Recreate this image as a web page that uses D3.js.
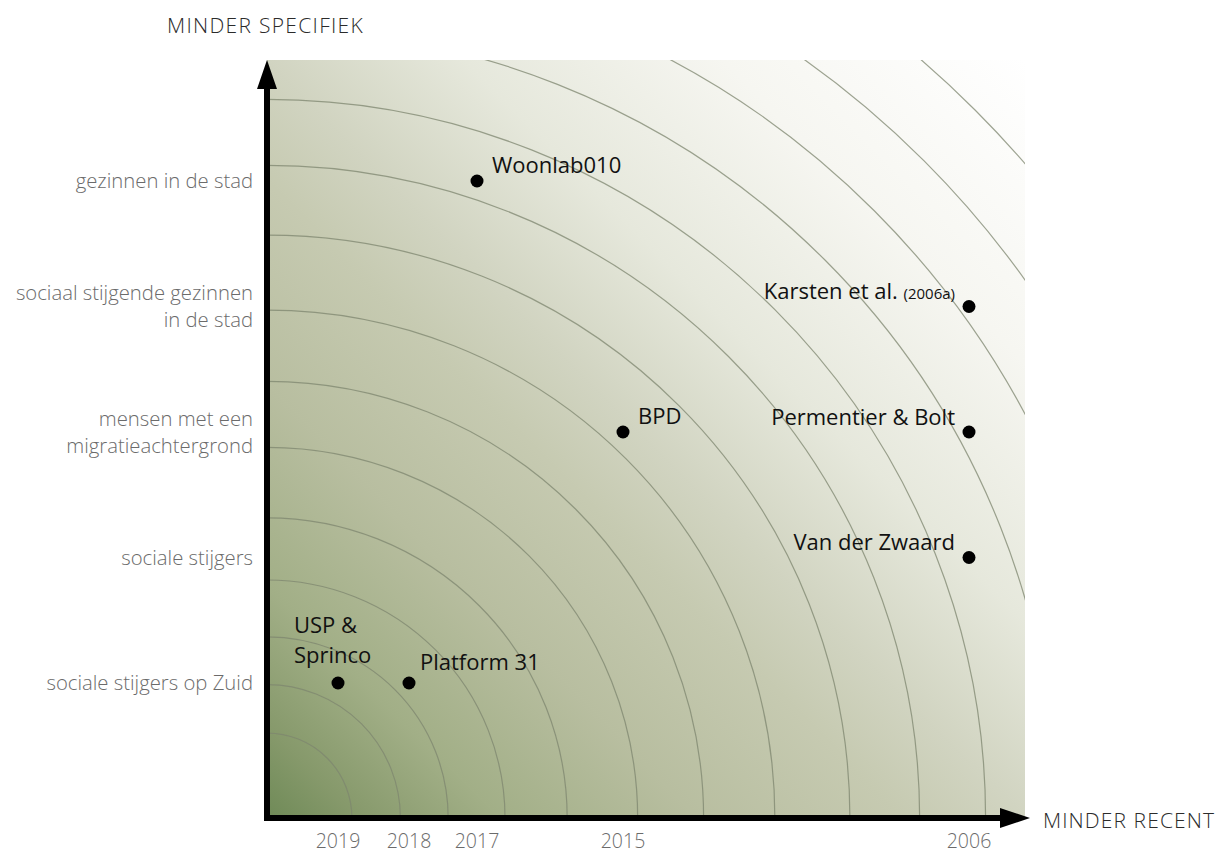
<!DOCTYPE html>
<html>
<head>
<meta charset="utf-8">
<script src="https://cdn.jsdelivr.net/npm/d3@7"></script>
<style>
  body { margin: 0; background: #fff; }
  text { font-family: "Open Sans", "Noto Sans", sans-serif; }
</style>
</head>
<body>
<div class="chart"></div>
<script>
// Data
var yCategories = ["sociale stijgers op Zuid", "sociale stijgers", "mensen met een\nmigratieachtergrond",
                   "sociaal stijgende gezinnen\nin de stad", "gezinnen in de stad"];
var xYears = [2019, 2018, 2017, 2015, 2006];
var studyNames = ["USP &\nSprinco", "Platform 31", "Woonlab010", "BPD", "Karsten et al.", "Permentier & Bolt", "Van der Zwaard"];
var studyNotes = ["", "", "", "", "(2006a)", "", ""];
var studyYears = [2019, 2018, 2017, 2015, 2006, 2006, 2006];
var studyGroups = ["sociale stijgers op Zuid", "sociale stijgers op Zuid", "gezinnen in de stad",
                   "mensen met een\nmigratieachtergrond", "sociaal stijgende gezinnen\nin de stad",
                   "mensen met een\nmigratieachtergrond", "sociale stijgers"];
// rings, as share of the plot side
var ringRadii = [0.112, 0.176, 0.239, 0.314, 0.396, 0.489, 0.576, 0.670, 0.769, 0.861, 0.948, 1.041, 1.133, 1.226, 1.321];

// Set up SVG Area
var svgWidth = 1220;
var svgHeight = 854;
var margin = {top: 60, left: 267};
var width = 758;
var height = 758;

var svg = d3.select(".chart")
    .append("svg")
    .attr("width", svgWidth)
    .attr("height", svgHeight);

var defs = svg.append("defs");

// diagonal gradient: green at the origin, white at the far corner
var grad = defs.append("linearGradient")
    .attr("id", "bg")
    .attr("gradientUnits", "userSpaceOnUse")
    .attr("x1", 0).attr("y1", height)
    .attr("x2", width).attr("y2", 0);
[[0, "#6f8a57"], [0.06, "#86996b"], [0.154, "#a2af87"], [0.285, "#b8bea0"], [0.42, "#c6cab1"],
 [0.5, "#d1d4c1"], [0.63, "#e6e8dc"], [0.8, "#f6f6f1"], [1, "#ffffff"]]
  .forEach(function(s) {
    grad.append("stop").attr("offset", s[0]).attr("stop-color", s[1]);
  });

defs.append("clipPath").attr("id", "plotClip")
  .append("rect").attr("x", 0).attr("y", 0).attr("width", width).attr("height", height);

var chartGroup = svg.append("g")
    .attr("transform", "translate(" + margin.left + "," + margin.top + ")");

// Scales
var xScale = d3.scaleLinear()
    .domain(xYears)
    .range([71, 142, 210, 356, 702]);

var yScale = d3.scalePoint()
    .domain(yCategories)
    .range([height - 135, 121]);

var rScale = d3.scaleLinear().domain([0, 1]).range([0, width]);

// Background
chartGroup.append("rect")
    .attr("width", width)
    .attr("height", height)
    .attr("fill", "url(#bg)");

// Rings
chartGroup.append("g")
    .attr("clip-path", "url(#plotClip)")
    .selectAll("path")
    .data(ringRadii)
    .enter()
    .append("path")
    .attr("transform", "translate(0," + height + ")")
    .attr("d", d3.arc().innerRadius(d => rScale(d)).outerRadius(d => rScale(d)).startAngle(0).endAngle(Math.PI / 2))
    .attr("fill", "none")
    .attr("stroke", "#7e856f")
    .attr("stroke-opacity", 0.75)
    .attr("stroke-width", 1.2);

// Axes with arrows
chartGroup.append("line")
    .attr("x1", 0).attr("y1", height).attr("x2", 0).attr("y2", 26)
    .attr("stroke", "#000").attr("stroke-width", 6);
chartGroup.append("path")
    .attr("d", "M0,0 L10,29 L-10,29 Z")
    .attr("fill", "#000");
chartGroup.append("line")
    .attr("x1", -3).attr("y1", height).attr("x2", width - 24).attr("y2", height)
    .attr("stroke", "#000").attr("stroke-width", 6);
chartGroup.append("path")
    .attr("d", "M" + (width + 5) + "," + height + " l-30,-10 l0,20 Z")
    .attr("fill", "#000");

// Y labels
chartGroup.selectAll(".ylab")
    .data(yCategories)
    .enter()
    .append("text")
    .attr("class", "ylab")
    .attr("text-anchor", "end")
    .attr("fill", "#6b6b6b")
    .attr("font-size", "20.3px")
    .attr("font-weight", 300)
    .each(function(d) {
      var lines = d.split("\n");
      var t = d3.select(this);
      lines.forEach(function(l, i) {
        t.append("tspan")
          .attr("x", -14)
          .attr("y", yScale(d) + (i - (lines.length - 1) / 2) * 27)
          .attr("dy", "0.35em")
          .text(l);
      });
    });

// X labels
chartGroup.selectAll(".xlab")
    .data(xYears)
    .enter()
    .append("text")
    .attr("class", "xlab")
    .attr("x", d => xScale(d))
    .attr("y", height + 30)
    .attr("text-anchor", "middle")
    .attr("fill", "#6b6b6b")
    .attr("font-size", "19.5px")
    .attr("font-weight", 300)
    .text(d => d);

// Axis titles
svg.append("text")
    .attr("x", 167).attr("y", 33)
    .attr("fill", "#2b2b2b")
    .attr("font-size", "21px")
    .attr("font-weight", 300)
    .attr("letter-spacing", "1.3px")
    .text("MINDER SPECIFIEK");
svg.append("text")
    .attr("x", 1043).attr("y", 828)
    .attr("fill", "#2b2b2b")
    .attr("font-size", "21px")
    .attr("font-weight", 300)
    .attr("letter-spacing", "1.1px")
    .text("MINDER RECENT");

// Points
var studies = studyNames.map(function(n, i) {
  return {name: n, note: studyNotes[i], year: studyYears[i], group: studyGroups[i]};
});

chartGroup.selectAll("circle")
    .data(studies)
    .enter()
    .append("circle")
    .attr("cx", d => xScale(d.year))
    .attr("cy", d => yScale(d.group))
    .attr("r", 6.5)
    .attr("fill", "#000");

// Point labels
chartGroup.selectAll(".plab")
    .data(studies)
    .enter()
    .append("text")
    .attr("class", "plab")
    .attr("fill", "#111")
    .attr("font-size", "22px")
    .each(function(d) {
      var t = d3.select(this);
      var px = xScale(d.year), py = yScale(d.group);
      var lines = d.name.split("\n");
      if (d.year === 2006) {
        t.attr("text-anchor", "end");
        px -= 14; py -= 15;
      } else if (lines.length > 1) {
        px -= 44; py -= 58;
      } else if (d.year === 2018) {
        px += 11; py -= 21;
      } else {
        px += 15; py -= 16;
      }
      lines.forEach(function(l, i) {
        t.append("tspan").attr("x", px).attr("y", py + i * 30).attr("dy", "0.35em").text(l);
      });
      if (d.note) {
        t.select("tspan").text(d.name + " ");
        t.select("tspan").append("tspan").attr("font-size", "15px").text(d.note);
      }
    });
</script>
</body>
</html>
